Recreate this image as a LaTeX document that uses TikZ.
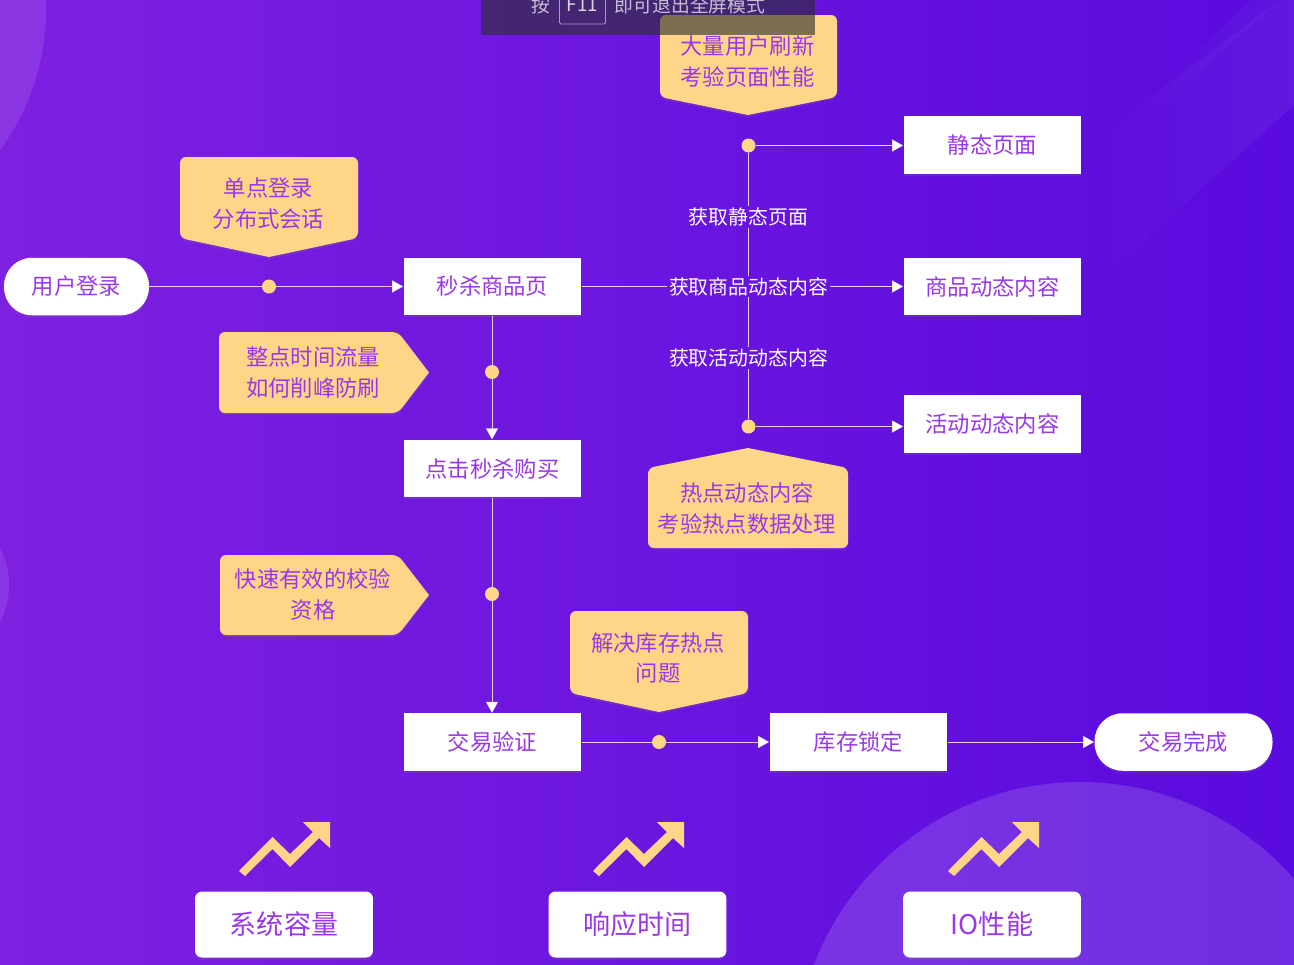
\documentclass[tikz,border=0pt]{standalone}
\usepackage{fontspec}
\setmainfont{Noto Sans CJK SC}
\usetikzlibrary{arrows.meta,shadows,fadings}
\definecolor{bgleft}{HTML}{7E20E0}
\definecolor{bgright}{HTML}{590ADE}
\definecolor{tagcolor}{HTML}{FFD588}
\definecolor{textcolor}{HTML}{9A38E8}
\definecolor{barcolor}{HTML}{2A2F30}
\tikzset{
    softshadow/.style={drop shadow={opacity=0.18, shadow xshift=0cm, shadow yshift=-0.04cm}},
    box/.style={fill=white, text=textcolor, minimum width=3.56cm, minimum height=1.15cm, inner sep=0, font=\fontsize{12.7}{16}\selectfont, softshadow},
    pill/.style={box, rounded corners=0.56cm},
    metric/.style={box, minimum height=1.32cm, rounded corners=0.14cm, font=\fontsize{15.4}{18}\selectfont},
    tag/.style={fill=tagcolor, rounded corners=0.12cm, softshadow},
    tagtext/.style={text=textcolor, align=center, inner sep=0, font=\fontsize{12.7}{17.6}\selectfont},
    steplabel/.style={text=white, inner xsep=0.03cm, inner ysep=0, minimum height=0.42cm, font=\fontsize{11.3}{14}\selectfont},
    bartext/.style={text=white, text opacity=0.7, inner sep=0, font=\fontsize{10.7}{13}\selectfont},
    dot/.style={circle, fill=tagcolor, minimum size=0.28cm, inner sep=0},
    link/.style={draw=white, draw opacity=0.8, line width=0.55pt},
    linkarrow/.style={link, -{Triangle[length=0.22cm, width=0.24cm, fill=white]}}
}
\begin{document}
\begin{tikzpicture}[x=0.02cm, y=-0.02cm]
    \path[use as bounding box, clip] (0, 0) rectangle (1294, 964);
    \fill[left color=bgleft, right color=bgright] (0, 0) rectangle (1294, 964);
    \fill[white, opacity=0.1] (-190, 10) circle (236);
    \fill[white, opacity=0.1] (-71, 585) circle (80);
    \fill[white, opacity=0.14] (1080, 1067) circle (285);
    \fill[white, fill opacity=0.06, path fading=west] (1093, 287) -- (1294, 105) -- (1294, 0) -- (1280, 0) -- (1093, 140) -- cycle;
    \fill[white, fill opacity=0.04, path fading=west] (1110, 140) -- (1250, 0) -- (1280, 0) -- (1120, 140) -- cycle;

    \node[pill, minimum width=2.9cm] (login) at (76.5, 286.5) {用户登录};
    \node[box] (page) at (492.5, 286.5) {秒杀商品页};
    \node[box] (buy) at (492.5, 468.5) {点击秒杀购买};
    \node[box] (check) at (492.5, 742) {交易验证};
    \node[box] (lock) at (858.5, 742) {库存锁定};
    \node[pill] (finish) at (1183.5, 742) {交易完成};
    \node[box] (static) at (992.5, 145) {静态页面};
    \node[box] (goods) at (992.5, 286.5) {商品动态内容};
    \node[box] (active) at (992.5, 424) {活动动态内容};

    \node[dot] (dotlogin) at (269, 286.5) {};
    \node[dot] (dotbuy) at (492, 372) {};
    \node[dot] (dotcheck) at (492, 594) {};
    \node[dot] (dotlock) at (659, 742) {};
    \node[dot] (dotstatic) at (748.5, 145.5) {};
    \node[dot] (dotactive) at (748.5, 426.5) {};

    \node[steplabel] (getstatic) at (748.5, 217) {获取静态页面};
    \node[steplabel] (getgoods) at (748.5, 286.5) {获取商品动态内容};
    \node[steplabel] (getactive) at (748.5, 358) {获取活动动态内容};

    \draw[link] (login) -- (dotlogin);
    \draw[linkarrow] (dotlogin) -- (page);
    \draw[link] (page.south -| dotbuy) -- (dotbuy);
    \draw[linkarrow] (dotbuy) -- (dotbuy |- buy.north);
    \draw[link] (buy.south -| dotcheck) -- (dotcheck);
    \draw[linkarrow] (dotcheck) -- (dotcheck |- check.north);
    \draw[link] (check) -- (dotlock);
    \draw[linkarrow] (dotlock) -- (lock);
    \draw[linkarrow] (lock) -- (finish);
    \draw[link] (page) -- (getgoods);
    \draw[linkarrow] (getgoods) -- (goods);
    \draw[linkarrow] (dotstatic) -- (dotstatic -| static.west);
    \draw[linkarrow] (dotactive) -- (dotactive -| active.west);
    \draw[link] (dotstatic) -- (getstatic);
    \draw[link] (getstatic) -- (getgoods);
    \draw[link] (getgoods) -- (getactive);
    \draw[link] (getactive) -- (dotactive);

    \fill[tag] (660, 15) -- (837, 15) -- (837, 97) [sharp corners] -- (748, 115) [rounded corners=0.12cm] -- (660, 97) -- cycle;
    \node[tagtext] (tagflash) at (747.5, 61.5) {大量用户刷新\\考验页面性能};
    \fill[tag] (180, 157) -- (358, 157) -- (358, 238) [sharp corners] -- (269, 257) [rounded corners=0.12cm] -- (180, 238) -- cycle;
    \node[tagtext] (tagsso) at (268.5, 203.5) {单点登录\\分布式会话};
    \fill[tag] (219, 332) -- (398, 332) [sharp corners] -- (429, 372.5) [rounded corners=0.12cm] -- (398, 413) -- (219, 413) -- cycle;
    \node[tagtext] (tagpeak) at (313, 372.5) {整点时间流量\\如何削峰防刷};
    \fill[tag] (220, 555) -- (398, 555) [sharp corners] -- (429, 595) [rounded corners=0.12cm] -- (398, 635) -- (220, 635) -- cycle;
    \node[tagtext] (tagcheck) at (313, 594.5) {快速有效的校验\\资格};
    \fill[tag] (648, 548) -- (648, 468) [sharp corners] -- (748, 448) [rounded corners=0.12cm] -- (848, 468) -- (848, 548) -- cycle;
    \node[tagtext] (taghot) at (747, 508.5) {热点动态内容\\考验热点数据处理};
    \fill[tag] (570, 611) -- (748, 611) -- (748, 693) [sharp corners] -- (659, 712) [rounded corners=0.12cm] -- (570, 693) -- cycle;
    \node[tagtext] (tagstock) at (658, 658) {解决库存热点\\问题};

    \foreach \ax in {0, 354, 709} {
        \fill[tagcolor, shift={(\ax, 0)}] (239, 871) -- (272.5, 837) -- (290, 854) -- (313, 832) -- (303, 822) -- (330, 822) -- (330, 848) -- (319, 838) -- (290, 867) -- (272.5, 849) -- (245, 876) -- cycle;
    }
    \node[metric] (capacity) at (284, 924.5) {系统容量};
    \node[metric] (response) at (637.5, 924.5) {响应时间};
    \node[metric] (iospeed) at (992, 924.5) {IO性能};

    \fill[barcolor, opacity=0.62] (481, 0) rectangle (815, 35);
    \node[bartext] (barleft) at (540.5, 5) {按};
    \node[bartext] (barright) at (690, 5) {即可退出全屏模式};
    \node[bartext, draw=white, draw opacity=0.55, text opacity=0.8, rounded corners=0.03cm, line width=0.5pt, minimum width=0.92cm, minimum height=0.76cm] (barkey) at (582.5, 5) {F11};
\end{tikzpicture}
\end{document}
